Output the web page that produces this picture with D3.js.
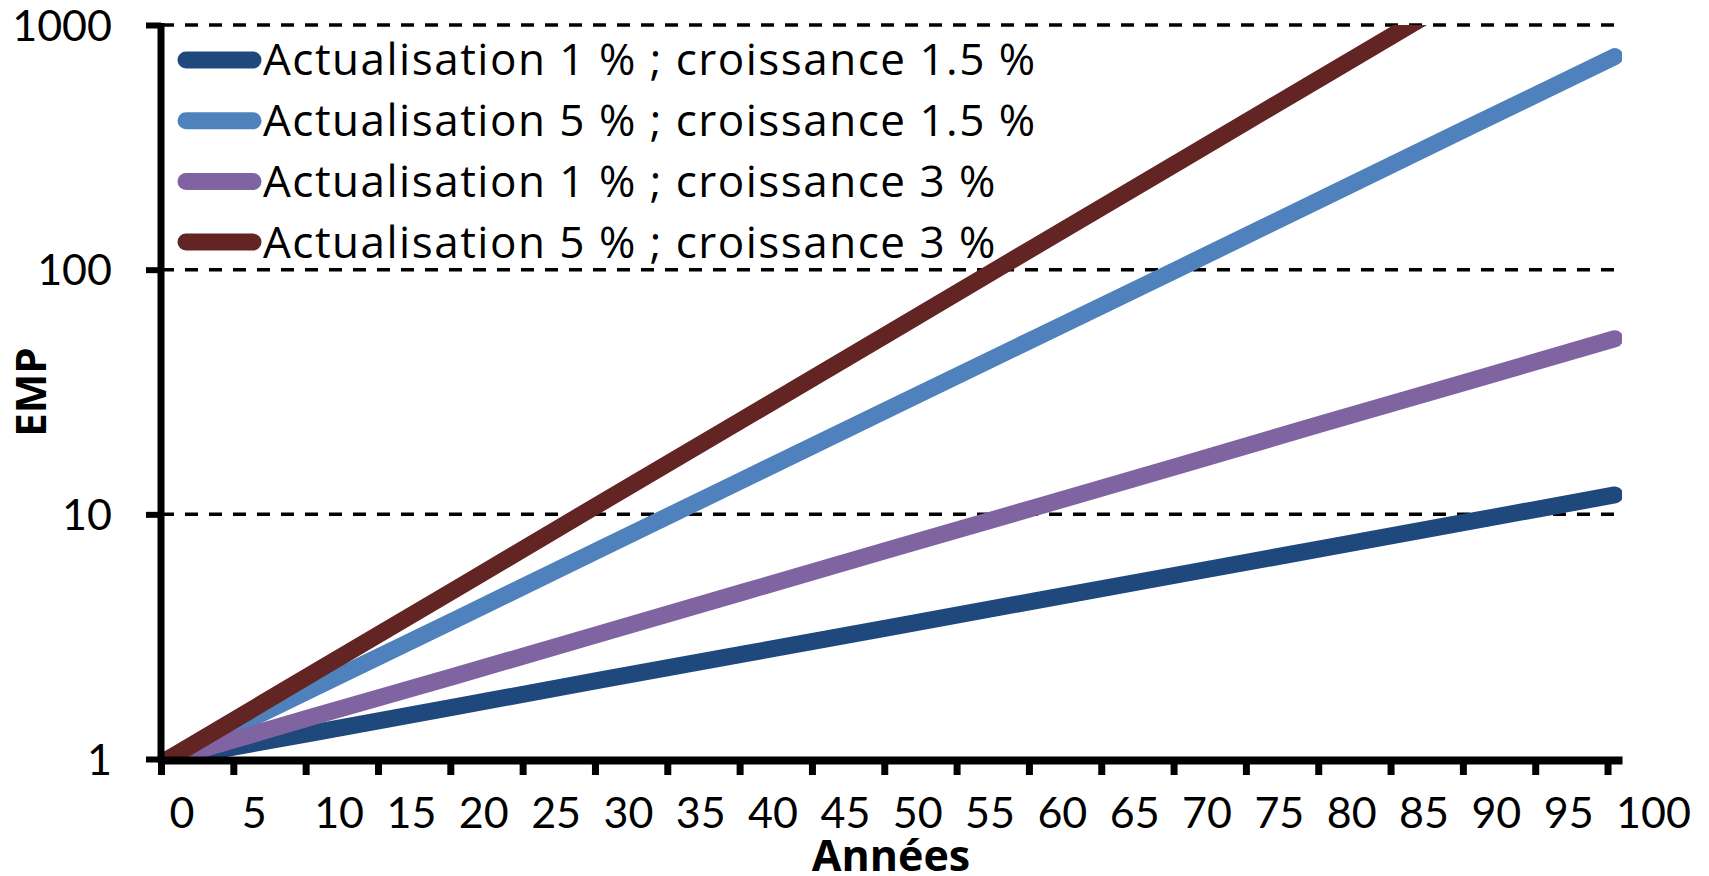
<!DOCTYPE html>
<html>
<head>
<meta charset="utf-8">
<script src="https://cdn.jsdelivr.net/npm/d3@7"></script>
<style>
  body { margin: 0; background: #fff; }
  svg { display: block; }
  text { font-family: Lato, "Open Sans", sans-serif; fill: #000; font-variant-ligatures: none; }
  .legend-text, .axis-title { font-family: "Open Sans", Lato, sans-serif; }
</style>
</head>
<body>
<svg id="chart" width="1709" height="876"></svg>
<script>
// Category axis: one category per year, 0 to 100
const categories = d3.range(0, 101);
const xTickLabels = ["0","5","10","15","20","25","30","35","40","45","50","55","60","65","70","75","80","85","90","95","100"];
const yTickValues = [1, 10, 100, 1000];

// Years at which each curve is sampled
const sampleYears = [0, 10, 20, 30, 40, 50, 60, 70, 80, 90, 100];

const seriesNames = [
  "Actualisation 1 % ; croissance 1.5 %",
  "Actualisation 5 % ; croissance 1.5 %",
  "Actualisation 1 % ; croissance 3 %",
  "Actualisation 5 % ; croissance 3 %"
];
const act1Cr15 = [1, 1.28, 1.64, 2.11, 2.70, 3.46, 4.44, 5.69, 7.29, 9.35, 12.0];
const act5Cr15 = [1, 1.94, 3.75, 7.27, 14.1, 27.3, 52.8, 102, 198, 384, 743];
const act1Cr3  = [1, 1.49, 2.20, 3.27, 4.86, 7.22, 10.7, 15.9, 23.7, 35.1, 52.2];
const act5Cr3  = [1, 2.24, 5.00, 11.2, 25.0, 55.8, 125, 279, 624, 1395, 3113];
const seriesValues = [act1Cr15, act5Cr15, act1Cr3, act5Cr3];

const colors = ["#1F497D", "#4F81BD", "#8064A2", "#632523"];

const svg = d3.select("#chart");

const plot = { left: 161, right: 1622, top: 25, bottom: 759 };

const x = d3.scaleBand().domain(categories).range([plot.left, plot.right]).padding(0);
const bw = x.bandwidth();
// Boundary scale for tick marks between categories
const xEdge = d3.scaleLinear().domain([0, categories.length]).range([plot.left, plot.right]);
const y = d3.scaleLog().domain([1, 1000]).range([plot.bottom, plot.top]);

// Dashed horizontal gridlines
svg.append("g")
  .selectAll("line")
  .data(yTickValues.filter(v => v > 1))
  .join("line")
  .attr("x1", plot.left)
  .attr("x2", plot.right)
  .attr("y1", d => y(d))
  .attr("y2", d => y(d))
  .attr("stroke", "#000")
  .attr("stroke-width", 3.5)
  .attr("stroke-dasharray", "13,11");

// Clip the curves to the plotting area
svg.append("defs").append("clipPath").attr("id", "plotClip")
  .append("rect")
  .attr("x", plot.left)
  .attr("y", plot.top)
  .attr("width", plot.right - plot.left)
  .attr("height", plot.bottom - plot.top);

const line = d3.line()
  .x(d => x(d[0]) + bw / 2)
  .y(d => y(d[1]));

svg.append("g")
  .attr("clip-path", "url(#plotClip)")
  .selectAll("path")
  .data(seriesValues)
  .join("path")
  .attr("d", vals => line(sampleYears.map((yr, i) => [yr, vals[i]])))
  .attr("fill", "none")
  .attr("stroke", (d, i) => colors[i])
  .attr("stroke-width", 17)
  .attr("stroke-linecap", "round")
  .attr("stroke-linejoin", "round");

// X axis
const xAxis = svg.append("g")
  .attr("transform", `translate(0,${plot.bottom + 1})`)
  .call(d3.axisBottom(xEdge)
    .tickValues(d3.range(0, 101, 5))
    .tickFormat((d, i) => xTickLabels[i])
    .tickSize(15)
    .tickSizeOuter(0));
xAxis.select(".domain").attr("stroke", "#000").attr("stroke-width", 8);
xAxis.selectAll(".tick line").attr("stroke", "#000").attr("stroke-width", 7);
xAxis.selectAll(".tick text")
  .attr("text-anchor", "start")
  .attr("x", 8)
  .attr("y", 53)
  .attr("dy", "0.35em")
  .style("font-size", "43px");

// Y axis
const yAxis = svg.append("g")
  .attr("transform", `translate(${plot.left},0)`)
  .call(d3.axisLeft(y)
    .tickValues(yTickValues)
    .tickFormat(d3.format("d"))
    .tickSize(15)
    .tickSizeOuter(0));
yAxis.select(".domain").attr("stroke", "#000").attr("stroke-width", 7)
  .attr("d", `M0,${plot.top - 2}V${plot.bottom + 4}`);
yAxis.selectAll(".tick line").attr("stroke", "#000").attr("stroke-width", 6);
yAxis.selectAll(".tick text")
  .attr("x", -49)
  .attr("dy", "0.35em")
  .style("font-size", "43px");
yAxis.selectAll("text").attr("fill", "#000");
xAxis.selectAll("text").attr("fill", "#000");

// Axis titles
svg.append("text")
  .attr("class", "axis-title")
  .attr("x", 891)
  .attr("y", 856)
  .attr("dy", "0.36em")
  .attr("text-anchor", "middle")
  .style("font-size", "43px")
  .style("font-weight", "bold")
  .text("Années");

svg.append("text")
  .attr("class", "axis-title")
  .attr("transform", `translate(31,${(plot.top + plot.bottom) / 2}) rotate(-90)`)
  .attr("text-anchor", "middle")
  .attr("dy", "0.36em")
  .style("font-size", "42px")
  .style("font-weight", "bold")
  .text("EMP");

// Legend
const legend = svg.append("g");
const legendRows = legend.selectAll("g")
  .data(seriesNames)
  .join("g")
  .attr("transform", (d, i) => `translate(0,${60 + i * 60.7})`);
legendRows.append("line")
  .attr("x1", 186)
  .attr("x2", 253)
  .attr("stroke", (d, i) => colors[i])
  .attr("stroke-width", 17)
  .attr("stroke-linecap", "round");
legendRows.append("text")
  .attr("class", "legend-text")
  .attr("x", 263)
  .attr("dy", "0.35em")
  .style("font-size", "44px")
  .style("letter-spacing", "1.5px")
  .text(d => d);
</script>
</body>
</html>
